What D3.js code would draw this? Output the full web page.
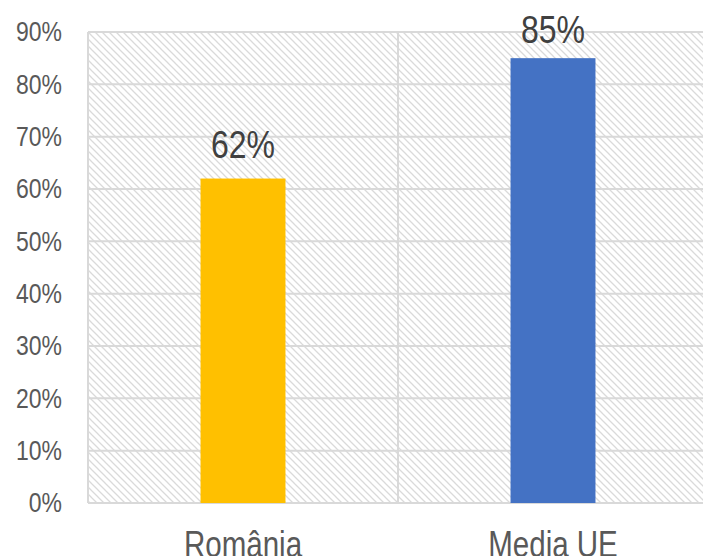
<!DOCTYPE html>
<html>
<head>
<meta charset="utf-8">
<script src="https://cdn.jsdelivr.net/npm/d3@7"></script>
<style>
  body { margin: 0; background: #fff; }
  svg { display: block; font-family: "Liberation Sans Narrow", "Liberation Sans", Arial, sans-serif; }
</style>
</head>
<body>
<svg id="chart" width="703" height="556"></svg>
<script>
// data
var categories = ["România", "Media UE"];
var values = [0.62, 0.85];
var barColors = ["#ffc000", "#4472c4"];
var yTicks = [0, 0.1, 0.2, 0.3, 0.4, 0.5, 0.6, 0.7, 0.8, 0.9];

var svg = d3.select("#chart");

// plot area (right side runs past the window edge)
var plotLeft = 88, plotRight = 708, plotTop = 32, plotBottom = 503;

var x = d3.scaleBand()
    .domain(categories)
    .range([plotLeft, plotRight])
    .paddingInner(0.726)
    .paddingOuter(0.363);

var y = d3.scaleLinear()
    .domain([0, 0.9])
    .range([plotBottom, plotTop]);

var step = x.step();

// squeeze text to a narrow face
function narrow(sel) {
    sel.each(function() {
        var len = this.getComputedTextLength();
        d3.select(this)
            .attr("textLength", len * 0.82)
            .attr("lengthAdjust", "spacingAndGlyphs");
    });
}

// hatch pattern for background
var defs = svg.append("defs");
defs.append("pattern")
    .attr("id", "hatch")
    .attr("patternUnits", "userSpaceOnUse")
    .attr("width", 7)
    .attr("height", 7)
  .append("path")
    .attr("d", "M0,0L7,7M-1,6L1,8M6,-1L8,1")
    .attr("stroke", "#dadada")
    .attr("stroke-width", 1.3);

svg.append("rect")
    .attr("x", plotLeft)
    .attr("y", plotTop)
    .attr("width", plotRight - plotLeft)
    .attr("height", plotBottom - plotTop)
    .attr("fill", "url(#hatch)");

// horizontal gridlines
svg.append("g")
    .selectAll("line")
    .data(yTicks)
    .enter().append("line")
    .attr("x1", plotLeft)
    .attr("x2", plotRight)
    .attr("y1", function(d) { return y(d); })
    .attr("y2", function(d) { return y(d); })
    .attr("stroke", "#d9d9d9")
    .attr("stroke-width", 2);

// vertical category boundaries
svg.append("g")
    .selectAll("line")
    .data([0, 1, 2])
    .enter().append("line")
    .attr("x1", function(i) { return plotLeft + i * step; })
    .attr("x2", function(i) { return plotLeft + i * step; })
    .attr("y1", plotTop)
    .attr("y2", plotBottom)
    .attr("stroke", "#d9d9d9")
    .attr("stroke-width", 2);

// y axis labels
var yAxis = d3.axisLeft(y)
    .tickValues(yTicks)
    .tickFormat(d3.format(".0%"))
    .tickSize(0)
    .tickPadding(26);

svg.append("g")
    .attr("transform", "translate(" + plotLeft + ",0)")
    .call(yAxis)
    .call(function(g) { g.select(".domain").remove(); })
    .selectAll("text")
    .attr("fill", "#595959")
    .attr("font-size", 28)
    .attr("font-family", null)
    .call(narrow);

// bars
svg.append("g")
    .selectAll("rect")
    .data(categories)
    .enter().append("rect")
    .attr("x", function(d) { return x(d); })
    .attr("y", function(d, i) { return y(values[i]); })
    .attr("width", x.bandwidth())
    .attr("height", function(d, i) { return plotBottom - y(values[i]); })
    .attr("fill", function(d, i) { return barColors[i]; });

// value labels
svg.append("g")
    .selectAll("text")
    .data(categories)
    .enter().append("text")
    .attr("x", function(d) { return x(d) + x.bandwidth() / 2; })
    .attr("y", function(d, i) { return Math.max(y(values[i]) - 21, 43); })
    .attr("text-anchor", "middle")
    .attr("fill", "#404040")
    .attr("font-size", 39)
    .text(function(d, i) { return Math.round(values[i] * 100) + "%"; })
    .call(narrow);

// category labels
var xAxis = d3.axisBottom(x).tickSize(0).tickPadding(28);
svg.append("g")
    .attr("transform", "translate(0," + plotBottom + ")")
    .call(xAxis)
    .call(function(g) { g.select(".domain").remove(); })
    .selectAll("text")
    .attr("fill", "#595959")
    .attr("font-size", 36)
    .attr("font-family", null)
    .call(narrow);
</script>
</body>
</html>
